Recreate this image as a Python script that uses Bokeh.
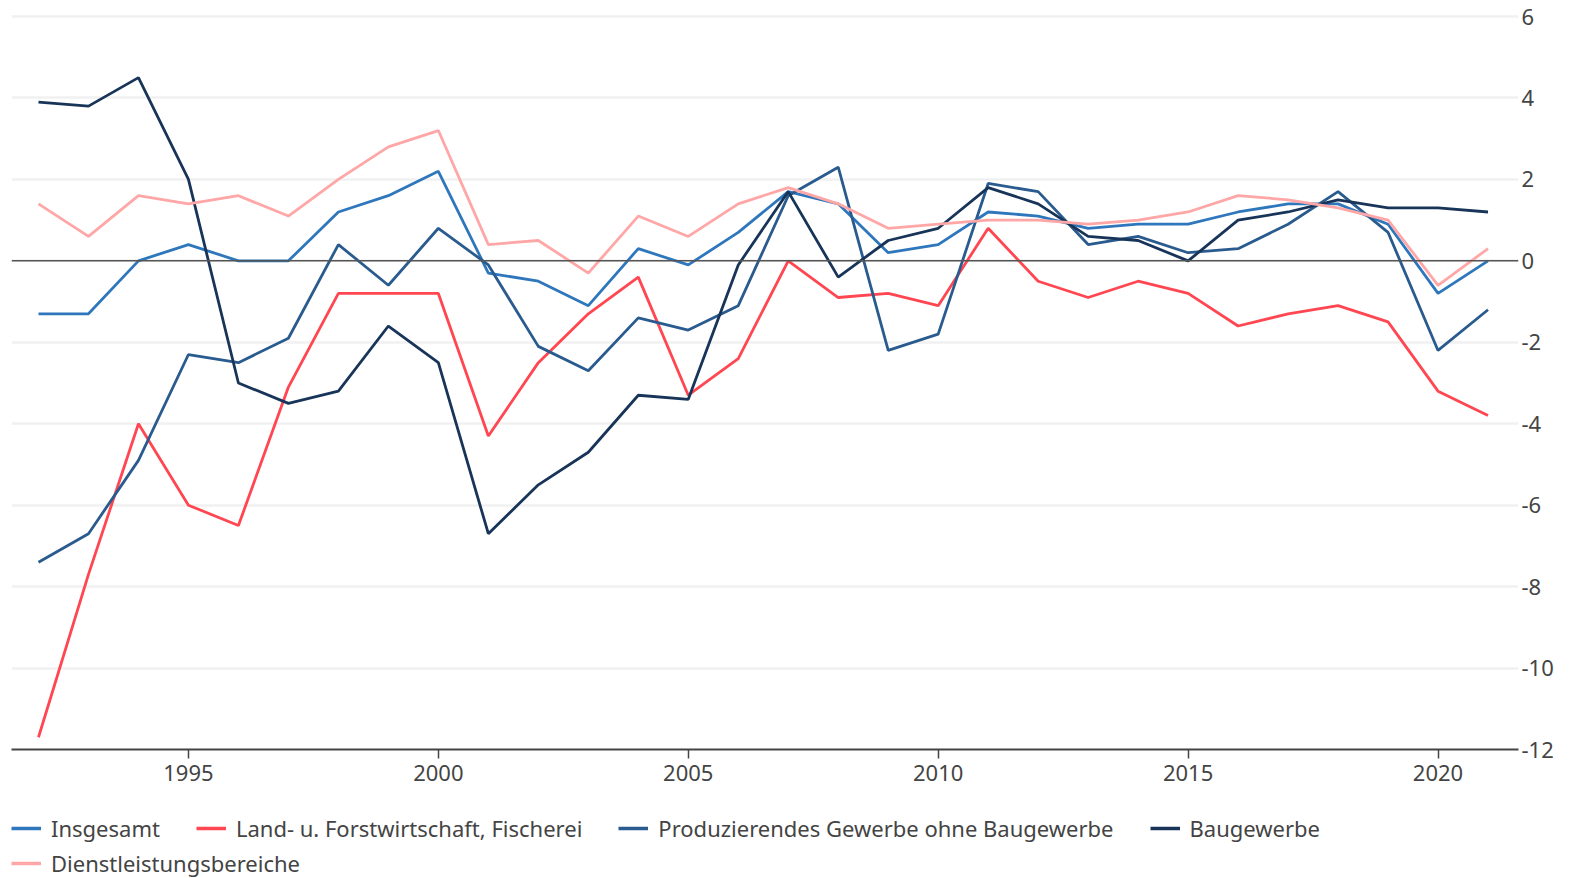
from bokeh.plotting import figure
from bokeh.models import Legend, LegendItem, FixedTicker, Span, Range1d
from bokeh.layouts import column
from bokeh.embed import file_html
from bokeh.resources import INLINE

years = list(range(1992, 2022))

insgesamt = [-1.3, -1.3, 0.0, 0.4, 0.0, 0.0, 1.2, 1.6, 2.2, -0.3,
             -0.5, -1.1, 0.3, -0.1, 0.7, 1.7, 1.4, 0.2, 0.4, 1.2,
             1.1, 0.8, 0.9, 0.9, 1.2, 1.4, 1.4, 0.9, -0.8, 0.0]
land = [-11.7, -7.7, -4.0, -6.0, -6.5, -3.1, -0.8, -0.8, -0.8, -4.3,
        -2.5, -1.3, -0.4, -3.3, -2.4, 0.0, -0.9, -0.8, -1.1, 0.8,
        -0.5, -0.9, -0.5, -0.8, -1.6, -1.3, -1.1, -1.5, -3.2, -3.8]
produzierend = [-7.4, -6.7, -4.9, -2.3, -2.5, -1.9, 0.4, -0.6, 0.8, -0.1,
                -2.1, -2.7, -1.4, -1.7, -1.1, 1.6, 2.3, -2.2, -1.8, 1.9,
                1.7, 0.4, 0.6, 0.2, 0.3, 0.9, 1.7, 0.7, -2.2, -1.2]
bau = [3.9, 3.8, 4.5, 2.0, -3.0, -3.5, -3.2, -1.6, -2.5, -6.7,
       -5.5, -4.7, -3.3, -3.4, -0.1, 1.7, -0.4, 0.5, 0.8, 1.8,
       1.4, 0.6, 0.5, 0.0, 1.0, 1.2, 1.5, 1.3, 1.3, 1.2]
dienst = [1.4, 0.6, 1.6, 1.4, 1.6, 1.1, 2.0, 2.8, 3.2, 0.4,
          0.5, -0.3, 1.1, 0.6, 1.4, 1.8, 1.4, 0.8, 0.9, 1.0,
          1.0, 0.9, 1.0, 1.2, 1.6, 1.5, 1.3, 1.0, -0.6, 0.3]

names = ["Insgesamt", "Land- u. Forstwirtschaft, Fischerei",
         "Produzierendes Gewerbe ohne Baugewerbe", "Baugewerbe",
         "Dienstleistungsbereiche"]
series = [insgesamt, land, produzierend, bau, dienst]
colors = ["#2f77bc", "#ff4651", "#2a5b8e", "#183559", "#ffa7a7"]

x_ticks = [1995, 2000, 2005, 2010, 2015, 2020]
y_ticks = [-12, -10, -8, -6, -4, -2, 0, 2, 4, 6]
y_labels = {t: str(t) for t in y_ticks}

FONT = "Noto Sans"
TXT = "#444444"

p = figure(width=1594, height=800, output_backend="svg", toolbar_location=None,
           x_range=Range1d(1991.46, 2021.61), y_range=Range1d(-12, 6.05),
           y_axis_location="right",
           min_border_left=11, min_border_right=76, min_border_top=14,
           min_border_bottom=51)
p.outline_line_color = None
p.background_fill_color = "white"
p.border_fill_color = "white"

for vals, col in zip(series, colors):
    p.line(years, vals, line_color=col, line_width=2.8)

zero = Span(location=0, dimension="width", line_color="#555555", line_width=1.5)
p.add_layout(zero)

p.xgrid.grid_line_color = None
p.ygrid.grid_line_color = "#f1f1f1"
p.ygrid.grid_line_width = 2.5
p.ygrid.ticker = FixedTicker(ticks=y_ticks)

xa = p.xaxis[0]
xa.ticker = FixedTicker(ticks=x_ticks)
xa.axis_line_color = "#444444"
xa.axis_line_width = 2
xa.major_tick_line_color = "#444444"
xa.major_tick_line_width = 1.5
xa.major_tick_in = 0
xa.major_tick_out = 9
xa.minor_tick_line_color = None
xa.major_label_standoff = 6
xa.major_label_text_font = FONT
xa.major_label_text_font_size = "22px"
xa.major_label_text_color = TXT

ya = p.yaxis[0]
ya.ticker = FixedTicker(ticks=y_ticks)
ya.major_label_overrides = y_labels
ya.axis_line_color = None
ya.major_tick_line_color = None
ya.minor_tick_line_color = None
ya.major_label_standoff = -3
ya.major_label_text_font = FONT
ya.major_label_text_font_size = "22px"
ya.major_label_text_color = TXT

# legend figure below the chart
lf = figure(width=1594, height=78, output_backend="svg", toolbar_location=None,
            x_range=Range1d(0, 1), y_range=Range1d(0, 1),
            min_border_left=0, min_border_right=0, min_border_top=0,
            min_border_bottom=0)
lf.axis.visible = False
lf.grid.visible = False
lf.outline_line_color = None
lf.border_fill_color = "white"
lf.background_fill_color = "white"

# placeholder renderers (outside the visible range) that give the legend its swatches
dummies = [lf.line([-5, -4], [-5, -5], line_color=col, line_width=3.5) for col in colors]


def style(leg):
    leg.orientation = "horizontal"
    leg.label_text_font = FONT
    leg.label_text_font_size = "22px"
    leg.label_text_color = TXT
    leg.glyph_width = 30
    leg.glyph_height = 26
    leg.label_height = 26
    leg.label_standoff = 10
    leg.spacing = 36
    leg.padding = 0
    leg.margin = 0
    leg.border_line_color = None
    leg.background_fill_alpha = 0


leg1 = Legend(items=[LegendItem(label=names[i], renderers=[dummies[i]]) for i in range(4)],
              location=(0, 35))
style(leg1)
leg2 = Legend(items=[LegendItem(label=names[4], renderers=[dummies[4]])],
              location=(0, 0))
style(leg2)
lf.add_layout(leg1)
lf.add_layout(leg2)

layout = column(p, lf, spacing=0)
open("out.html", "w").write(file_html(layout, INLINE))
